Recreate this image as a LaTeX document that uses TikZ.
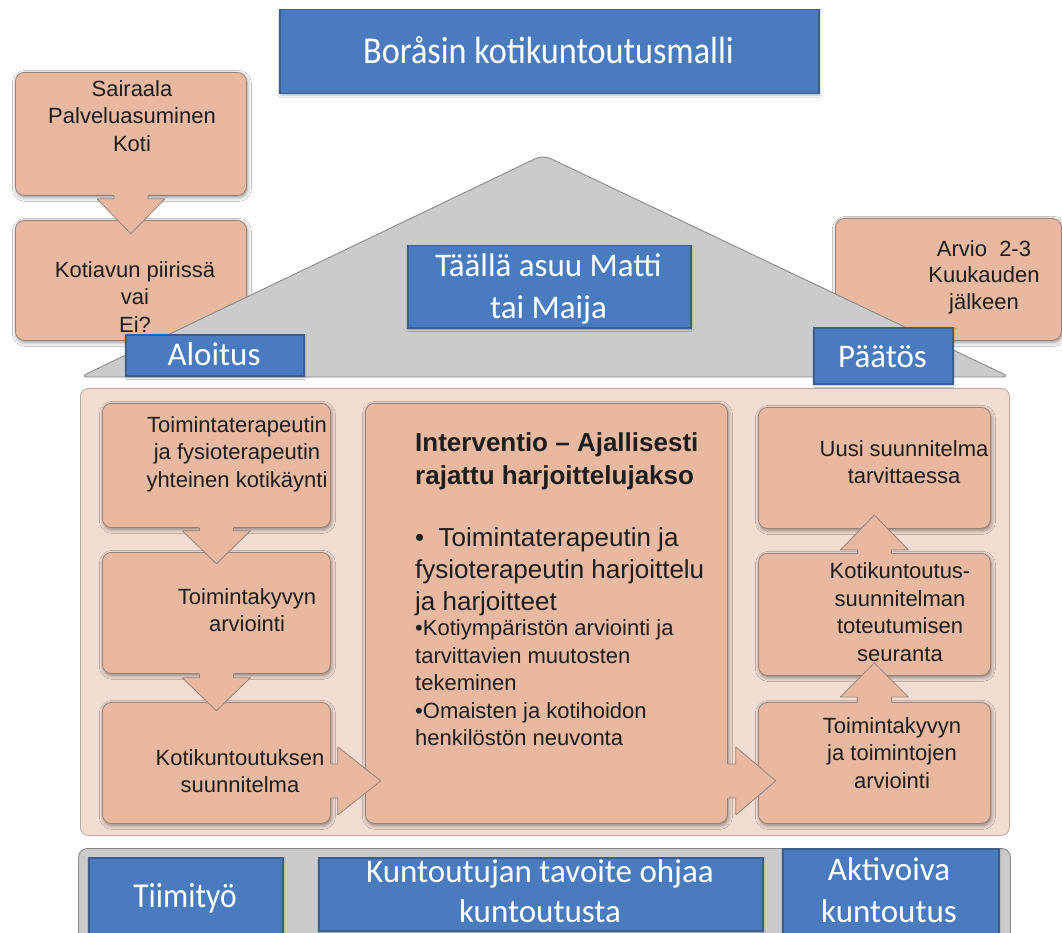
\documentclass[tikz,border=0pt]{standalone}
\usepackage{fontspec}
\setmainfont{Liberation Sans}
\newfontfamily\carl{Carlito}
\newfontfamily\carlT[FakeStretch=0.9]{Carlito}
\usetikzlibrary{calc,shadows.blur}
\definecolor{bluefill}{HTML}{4A7BBF}
\definecolor{blueline}{HTML}{3A5F8E}
\definecolor{salmon}{HTML}{E8B9A0}
\definecolor{salline}{HTML}{9A8178}
\definecolor{panelfill}{HTML}{F3DDD3}
\definecolor{panelline}{HTML}{B8A8A2}
\definecolor{roofgray}{HTML}{CBCBCB}
\definecolor{roofline}{HTML}{8A8A8A}
\definecolor{txt}{HTML}{1E1E1E}
\newcommand{\blockarrow}[4]{%
  \begin{scope}[shift={#1}, rotate=#2]
    \fill[salmon] (-17,-6) -- (17,-6) -- (17,#3) -- (34,#3) -- (0,#4) -- (-34,#3) -- (-17,#3) -- cycle;
    \draw[salline, line width=0.8pt, line join=round] (-17,0) -- (-17,#3) -- (-34,#3) -- (0,#4) -- (34,#3) -- (17,#3) -- (17,0);
  \end{scope}}
\begin{document}
\begin{tikzpicture}[x=1pt,y=-1pt,
  salbox/.style={draw=salline, line width=0.8pt, fill=salmon, rounded corners=9pt, inner sep=0pt, anchor=north west,
    blur shadow={shadow xshift=1pt, shadow yshift=-2pt, shadow blur radius=4pt, shadow opacity=45}},
  bluebox/.style={draw=blueline, line width=1.5pt, fill=bluefill, inner sep=0pt, anchor=north west,
    blur shadow={shadow xshift=1pt, shadow yshift=-1.5pt, shadow blur radius=2pt, shadow opacity=30}},
  saltext/.style={font=\fontsize{22}{27.5}\selectfont, align=center, text=txt, inner sep=0pt},
  bluetext/.style={font=\carl\fontsize{33}{42}\selectfont, align=center, text=white, inner sep=0pt}]
\fill[white] (0,0) rectangle (1062,933);
\useasboundingbox (0,0) rectangle (1062,933);

% title
\node[bluebox, minimum width=539, minimum height=84] (TT) at (279,9) {};
\node[bluetext, font=\carlT\fontsize{38}{42}\selectfont, anchor=base] (TTt) at (548.5,64) {Boråsin kotikuntoutusmalli};

% left top boxes
\node[salbox, minimum width=231, minimum height=123] (SA) at (15,72) {};
\node[saltext] (SAt) at (132,116) {Sairaala\\Palveluasuminen\\Koti};
\node[salbox, minimum width=231, minimum height=120] (KB) at (15,220) {};
\blockarrow{(SA.south)}{0}{3}{38}

% right top box
\node[salbox, minimum width=226, minimum height=122] (AR) at (835,218) {};

% roof
\filldraw[fill=roofgray, draw=roofline, line width=0.9pt, rounded corners=8pt] (80,377) -- (543,155) -- (1010,377) -- cycle;

\node[saltext] (KBt) at (135,297) {Kotiavun piirissä\\vai\\Ei?};
\node[saltext, font=\fontsize{22}{26.5}\selectfont] (ARt) at (984,277) {Arvio\ \ 2-3\\Kuukauden\\jälkeen};

\node[bluebox, minimum width=283, minimum height=82] (MT) at (407,245) {};
\node[bluetext] (MTt) at (548.5,289) {Täällä asuu Matti\\tai Maija};
\node[bluebox, minimum width=178, minimum height=41] (AL) at (125,334) {};
\node[bluetext, anchor=base] (ALt) at (214,365) {Aloitus};
\node[bluebox, minimum width=139, minimum height=56] (PA) at (813,327) {};
\node[bluetext, anchor=base] (PAt) at (882.5,367) {Päätös};

% main panel
\node[draw=panelline, line width=0.8pt, fill=panelfill, rounded corners=8pt, inner sep=0pt, anchor=north west,
  minimum width=929, minimum height=447] (P) at (80,388) {};

% left column
\node[salbox, minimum width=228, minimum height=124] (L1) at (102,403) {};
\node[salbox, minimum width=228, minimum height=121] (L2) at (102,552) {};
\node[salbox, minimum width=228, minimum height=121] (L3) at (102,702) {};
% centre
\node[salbox, minimum width=362, minimum height=420] (C) at (365,403) {};
% right column
\node[salbox, minimum width=232, minimum height=121] (R1) at (758,407) {};
\node[salbox, minimum width=232, minimum height=122] (R2) at (758,553) {};
\node[salbox, minimum width=232, minimum height=121] (R3) at (758,702) {};

% arrows
\blockarrow{(L1.south)}{0}{3}{36}
\blockarrow{(L2.south)}{0}{4}{37}
\blockarrow{($(L3.east)+(0,18)$)}{90}{7}{50}
\blockarrow{($(C.east |- R3.west)+(0,18)$)}{90}{8}{48}
\blockarrow{(R3.north)}{180}{5}{39}
\blockarrow{(R2.north)}{180}{3}{38}

% texts in panel
\node[saltext] (L1t) at (237,454) {Toimintaterapeutin\\ja fysioterapeutin\\yhteinen kotikäynti};
\node[saltext] (L2t) at (247,610) {Toimintakyvyn\\arviointi};
\node[saltext] (L3t) at (240,771) {Kotikuntoutuksen\\suunnitelma};
\node[saltext, align=left, anchor=west, font=\bfseries\fontsize{26}{33}\selectfont] (Ch) at (415,461) {Interventio – Ajallisesti\\rajattu harjoittelujakso};
\node[saltext, align=left, anchor=west, font=\fontsize{26}{32}\selectfont] (Cb1) at (415,572) {•\hspace{0.55em}Toimintaterapeutin ja\\fysioterapeutin harjoittelu\\ja harjoitteet};
\node[saltext, align=left, anchor=west, font=\fontsize{22}{27.5}\selectfont] (Cb2) at (415,683) {•Kotiympäristön arviointi ja\\tarvittavien muutosten\\tekeminen\\•Omaisten ja kotihoidon\\henkilöstön neuvonta};
\node[saltext] (R1t) at (904,462) {Uusi suunnitelma\\tarvittaessa};
\node[saltext] (R2t) at (900,612) {Kotikuntoutus-\\suunnitelman\\toteutumisen\\seuranta};
\node[saltext] (R3t) at (892,753) {Toimintakyvyn\\ja toimintojen\\arviointi};

% bottom band
\node[draw=roofline, line width=0.9pt, fill=roofgray, rounded corners=9pt, inner sep=0pt, anchor=north west,
  minimum width=932, minimum height=100] (BD) at (78,848) {};
\node[bluebox, minimum width=194, minimum height=90] (TI) at (88,857) {};
\node[bluetext, anchor=base, font=\carlT\fontsize{35}{42}\selectfont] (TIt) at (185,907) {Tiimityö};
\node[bluebox, minimum width=444, minimum height=73] (KT) at (318,857) {};
\node[bluetext, font=\carl\fontsize{33}{40}\selectfont] (KTt) at (540,891) {Kuntoutujan tavoite ohjaa\\kuntoutusta};
\node[bluebox, minimum width=216, minimum height=100] (AK) at (782,848) {};
\node[bluetext, font=\carl\fontsize{33}{41.5}\selectfont] (AKt) at (889,890) {Aktivoiva\\kuntoutus};
\end{tikzpicture}
\end{document}
